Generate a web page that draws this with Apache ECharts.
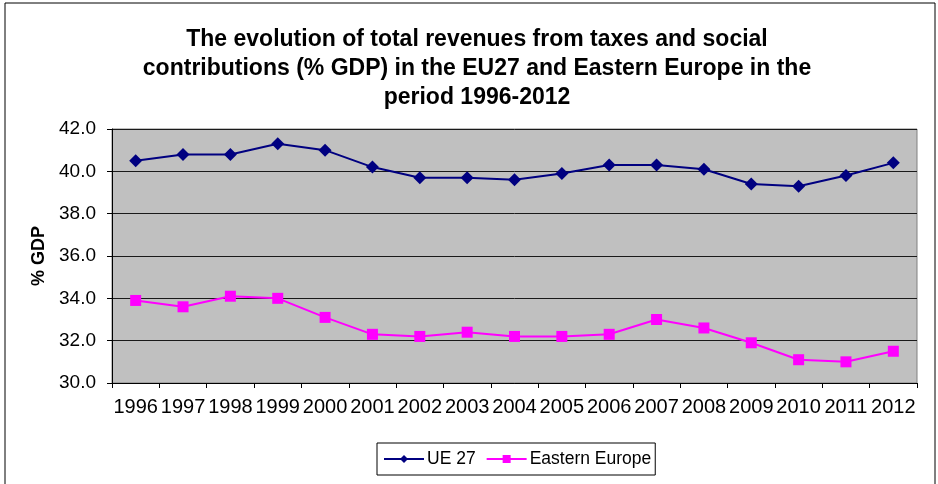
<!DOCTYPE html>
<html>
<head>
<meta charset="utf-8">
<script src="https://cdn.jsdelivr.net/npm/echarts@6/dist/echarts.min.js"></script>
<style>
html,body{margin:0;padding:0;background:#fff;}
#chart{width:938px;height:484px;}
</style>
</head>
<body>
<div id="chart"></div>
<script>
var years = ['1996','1997','1998','1999','2000','2001','2002','2003','2004','2005','2006','2007','2008','2009','2010','2011','2012'];
var ue27 = [40.5, 40.8, 40.8, 41.3, 41.0, 40.2, 39.7, 39.7, 39.6, 39.9, 40.3, 40.3, 40.1, 39.4, 39.3, 39.8, 40.4];
var easternEurope = [33.9, 33.6, 34.1, 34.0, 33.1, 32.3, 32.2, 32.4, 32.2, 32.2, 32.3, 33.0, 32.6, 31.9, 31.1, 31.0, 31.5];
var yTicks = {min: 30, max: 42, interval: 2};

var chart = echarts.init(document.getElementById('chart'), null, {renderer: 'canvas'});
var font = 'Liberation Sans, Arial, sans-serif';
chart.setOption({
  animation: false,
  backgroundColor: '#fff',
  graphic: [{
    type: 'rect', z: -10, silent: true,
    shape: {x: 5, y: 3, width: 930, height: 500},
    style: {fill: '#fff', stroke: '#000', lineWidth: 1}
  }],
  title: {
    text: 'The evolution of total revenues from taxes and social\ncontributions (% GDP) in the EU27 and Eastern Europe in the\nperiod 1996-2012',
    left: 472,
    textAlign: 'center',
    top: 20,
    textStyle: {fontFamily: font, fontSize: 23, fontWeight: 'bold', color: '#000', lineHeight: 29}
  },
  grid: {
    left: 112, right: 21, top: 129, bottom: 101,
    show: true, backgroundColor: '#C0C0C0', borderColor: '#808080', borderWidth: 1
  },
  legend: {
    left: 377, top: 443,
    width: 278, height: 34,
    padding: [7, 4, 7, 6],
    itemGap: 10,
    itemWidth: 40, itemHeight: 10,
    borderColor: '#000', borderWidth: 1,
    backgroundColor: '#fff',
    textStyle: {fontFamily: font, fontSize: 17.5, color: '#000', padding: [0, 0, 0, -2]},
    data: ['UE 27', 'Eastern Europe']
  },
  xAxis: {
    type: 'category',
    data: years,
    boundaryGap: true,
    axisLine: {show: true, lineStyle: {color: '#000', width: 1}},
    axisTick: {show: true, length: 5, inside: false, alignWithLabel: false, lineStyle: {color: '#000'}},
    axisLabel: {fontFamily: font, fontSize: 20, color: '#000', margin: 14, interval: 0},
    splitLine: {show: false}
  },
  yAxis: {
    type: 'value',
    min: yTicks.min, max: yTicks.max, interval: yTicks.interval,
    name: '% GDP',
    nameLocation: 'middle',
    nameGap: 58,
    nameRotate: 90,
    nameTextStyle: {fontFamily: font, fontSize: 18, fontWeight: 'bold', color: '#000'},
    axisLine: {show: true, lineStyle: {color: '#000', width: 1}},
    axisTick: {show: true, length: 5, lineStyle: {color: '#000'}},
    axisLabel: {fontFamily: font, fontSize: 19, color: '#000', margin: 16,
      formatter: function (v) { return v.toFixed(1); }},
    splitLine: {show: true, lineStyle: {color: '#1a1a1a', width: 1}}
  },
  series: [{
    name: 'UE 27',
    type: 'line',
    data: ue27,
    symbol: 'diamond',
    symbolSize: 13,
    lineStyle: {color: '#000080', width: 2},
    itemStyle: {color: '#000080'}
  }, {
    name: 'Eastern Europe',
    type: 'line',
    data: easternEurope,
    symbol: 'rect',
    symbolSize: 11,
    lineStyle: {color: '#FF00FF', width: 2},
    itemStyle: {color: '#FF00FF'}
  }]
});
</script>
</body>
</html>
